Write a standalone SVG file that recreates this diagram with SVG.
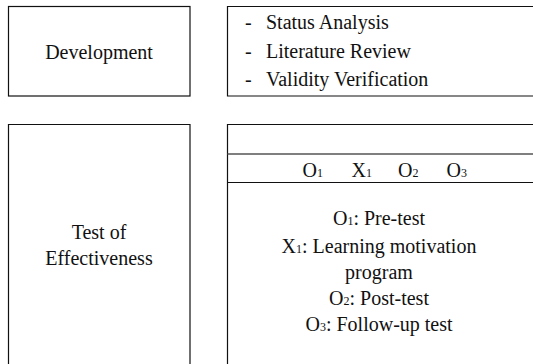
<svg xmlns="http://www.w3.org/2000/svg" width="533" height="364" viewBox="0 0 533 364">
  <style>
    .frame { fill: none; stroke: #111; stroke-width: 1.2; }
    .rule { fill: none; stroke: #555; stroke-width: 1.4; }
    .lbl { font-family: 'Liberation Serif', 'DejaVu Serif', 'Times New Roman', serif; font-size: 20px; fill: #111; }
    .c { text-anchor: middle; }
    .sub { font-size: 12px; }
  </style>
  <rect width="533" height="364" fill="#fff"/>

  <!-- Stage 1: development -->
  <g id="development">
    <rect class="frame" x="8.5" y="6.5" width="181.5" height="89.5"/>
    <text class="lbl c" x="99" y="59" font-family="Liberation Serif, serif">Development</text>
  </g>

  <g id="development-tasks">
    <path class="frame" d="M533,6.5 H227.5 V96 H533"/>
    <text class="lbl" x="245" y="29" font-family="Liberation Serif, serif">-</text>
    <text class="lbl" x="266" y="29" font-family="Liberation Serif, serif">Status Analysis</text>
    <text class="lbl" x="245" y="57.5" font-family="Liberation Serif, serif">-</text>
    <text class="lbl" x="266" y="57.5" font-family="Liberation Serif, serif">Literature Review</text>
    <text class="lbl" x="245" y="86" font-family="Liberation Serif, serif">-</text>
    <text class="lbl" x="266" y="86" font-family="Liberation Serif, serif">Validity Verification</text>
  </g>

  <!-- Stage 2: test of effectiveness -->
  <g id="effectiveness">
    <path class="frame" d="M8.5,364 V124.5 H190 V364"/>
    <text class="lbl c" x="99" y="239" font-family="Liberation Serif, serif">Test of</text>
    <text class="lbl c" x="99" y="265" font-family="Liberation Serif, serif">Effectiveness</text>
  </g>

  <g id="design">
    <path class="frame" d="M227.5,364 V124.5 H533"/>
    <line class="rule" x1="227.5" y1="154" x2="533" y2="154"/>
    <line class="frame" x1="227.5" y1="182.5" x2="533" y2="182.5"/>
    <text class="lbl" x="302.5" y="177" font-family="Liberation Serif, serif">O<tspan class="sub">1</tspan></text>
    <text class="lbl" x="351.5" y="177" font-family="Liberation Serif, serif">X<tspan class="sub">1</tspan></text>
    <text class="lbl" x="398" y="177" font-family="Liberation Serif, serif">O<tspan class="sub">2</tspan></text>
    <text class="lbl" x="446.5" y="177" font-family="Liberation Serif, serif">O<tspan class="sub">3</tspan></text>

    <text class="lbl c" x="379" y="225" font-family="Liberation Serif, serif">O<tspan class="sub">1</tspan>: Pre-test</text>
    <text class="lbl c" x="379" y="253" font-family="Liberation Serif, serif">X<tspan class="sub">1</tspan>: Learning motivation</text>
    <text class="lbl c" x="379" y="279" font-family="Liberation Serif, serif">program</text>
    <text class="lbl c" x="379" y="305" font-family="Liberation Serif, serif">O<tspan class="sub">2</tspan>: Post-test</text>
    <text class="lbl c" x="379" y="331" font-family="Liberation Serif, serif">O<tspan class="sub">3</tspan>: Follow-up test</text>
  </g>
</svg>
